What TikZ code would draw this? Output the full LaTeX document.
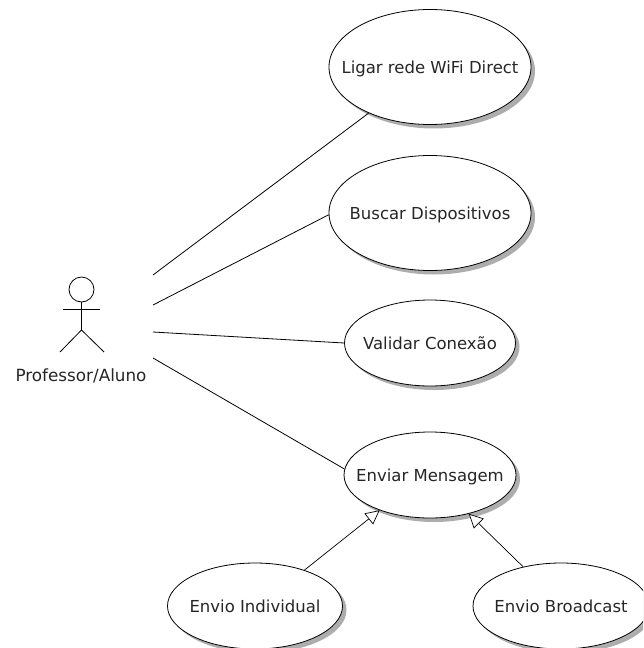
\documentclass[tikz,border=0pt]{standalone}
\usepackage{fontspec}
\setmainfont{DejaVu Sans}
\usetikzlibrary{shapes.geometric,shadows,arrows.meta}
\definecolor{txt}{gray}{0.15}
\newcommand{\uclabel}[1]{\raisebox{-6.5pt}[0pt][0pt]{\makebox[0pt][c]{#1}}}
\tikzset{
  usecase/.style={ellipse,draw=black,line width=0.8pt,fill=white,inner sep=0pt,
    text=txt,font=\fontsize{16.5}{18}\selectfont,
    drop shadow={shadow xshift=4pt,shadow yshift=-4pt,fill=black!32,opacity=1}},
  assoc/.style={draw=black,line width=0.8pt},
  general/.style={draw=black,line width=0.7pt,-{Triangle[open,fill=white,length=14pt,width=14pt]}},
  stick/.style={draw=black,line width=0.8pt}
}
\begin{document}
\begin{tikzpicture}[x=1pt,y=-1pt]
\useasboundingbox (0,0) rectangle (643,648);
\clip (0,0) rectangle (643,648);
\node[usecase,minimum width=202pt,minimum height=115pt] (e1) at (430,67) {\uclabel{Ligar rede WiFi Direct}};
\node[usecase,minimum width=202pt,minimum height=115pt] (e2) at (430,213) {\uclabel{Buscar Dispositivos}};
\node[usecase,minimum width=171pt,minimum height=86pt] (e3) at (430,343) {\uclabel{Validar Conexão}};
\node[usecase,minimum width=172pt,minimum height=86pt] (e4) at (430,475) {\uclabel{Enviar Mensagem}};
\node[usecase,minimum width=175pt,minimum height=86pt] (e5) at (255,606) {\uclabel{Envio Individual}};
\node[usecase,minimum width=176pt,minimum height=86pt] (e6) at (561,606) {\uclabel{Envio Broadcast}};
% actor
\node[circle,stick,fill=white,minimum size=25pt,inner sep=0pt] (head) at (81.5,289.5) {};
\coordinate (armL) at (63,309);
\coordinate (armR) at (100,309);
\coordinate (hip) at (81.5,330);
\coordinate (legL) at (60,352);
\coordinate (legR) at (104,352);
\draw[stick] (head.south) -- (hip);
\draw[stick] (armL) -- (armR);
\draw[stick] (legL) -- (hip) -- (legR);
\node[text=txt,font=\fontsize{16.8}{18}\selectfont,inner sep=0pt] (actor) at (81,376) {Professor/Aluno};
% associations
\coordinate (a1) at (153,275);
\coordinate (a2) at (153,305);
\coordinate (a3) at (153,332);
\coordinate (a4) at (153,358);
\draw[assoc] (a1) -- (e1);
\draw[assoc] (a2) -- (e2.181);
\draw[assoc] (a3) -- (e3.west);
\draw[assoc] (a4) -- (e4.176);
% generalisations
\draw[general] (e5.36) -- (e4.215);
\draw[general] (e6.134) -- (e4.315);
\end{tikzpicture}
\end{document}
